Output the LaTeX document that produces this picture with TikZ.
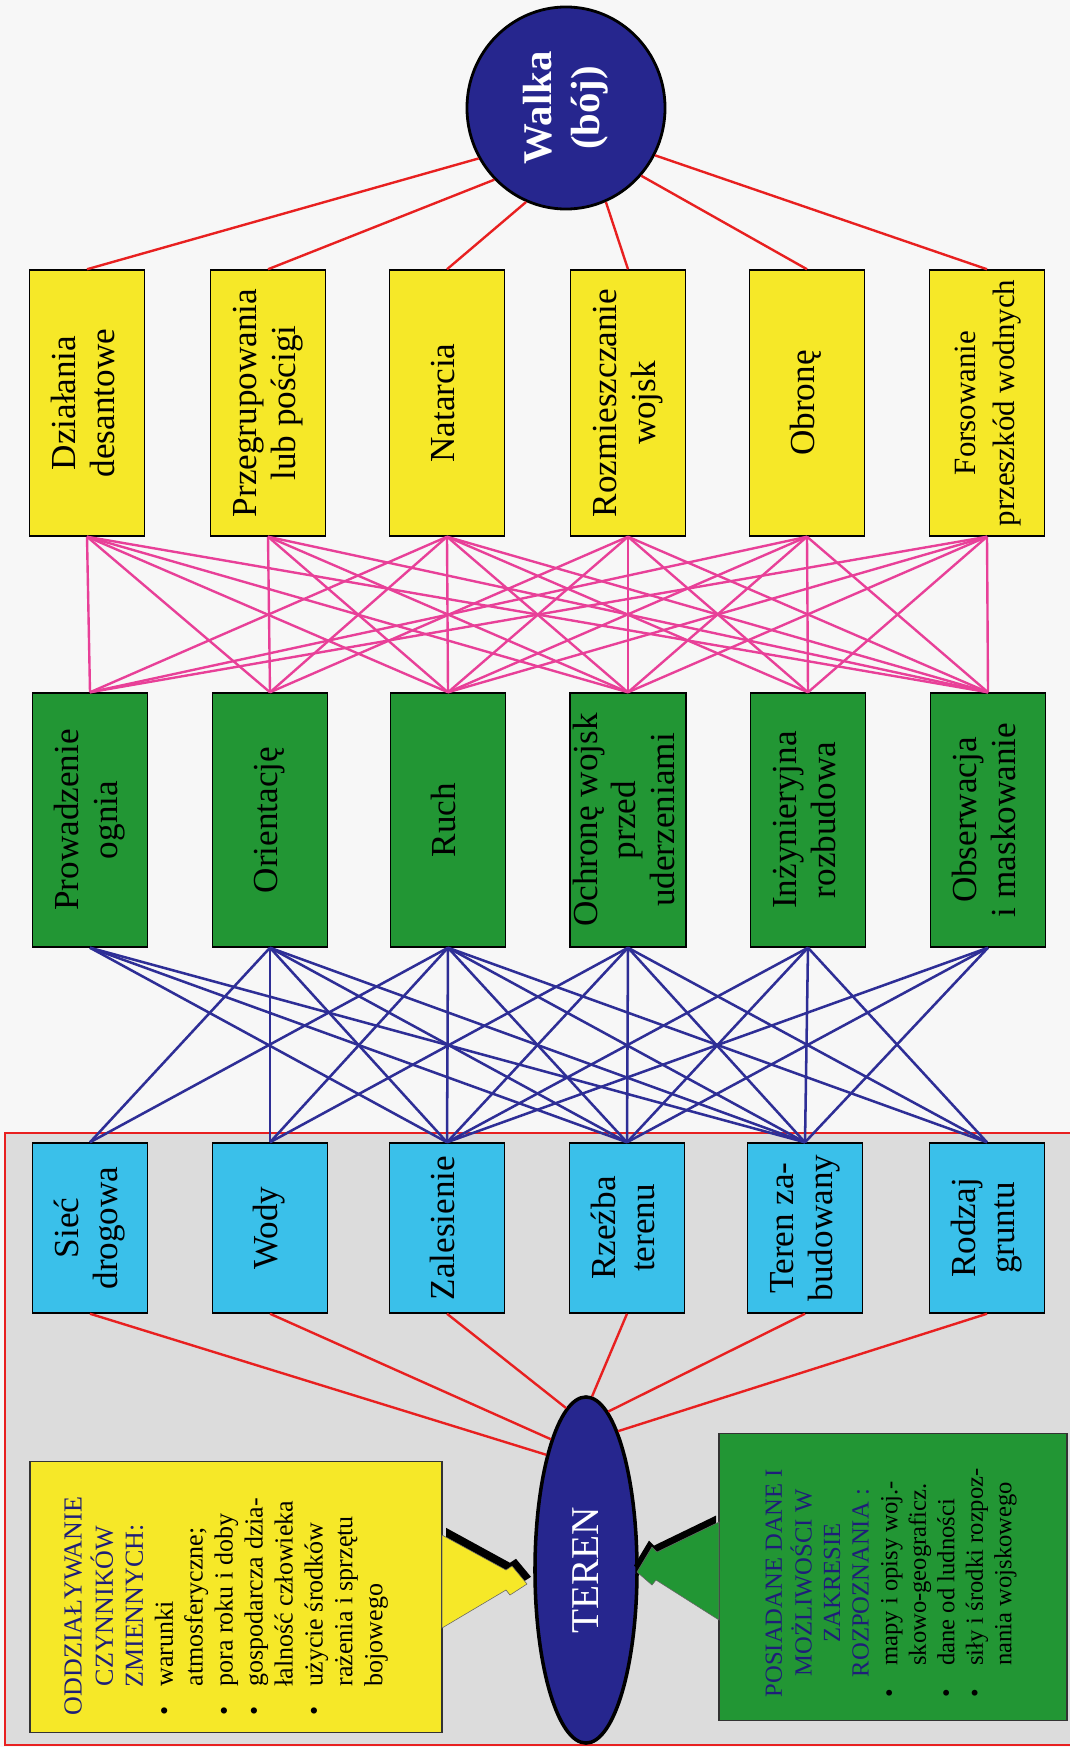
\documentclass[tikz,border=0pt]{standalone}
\usepackage{fontspec}
\setmainfont{Liberation Serif}
\usepackage{graphicx}
\usepackage{xcolor}
\usetikzlibrary{shapes.geometric}

\definecolor{boxyellow}{RGB}{246,232,40}
\definecolor{boxgreen}{RGB}{34,150,52}
\definecolor{boxcyan}{RGB}{58,192,234}
\definecolor{ovalblue}{RGB}{38,38,142}
\definecolor{headblue}{RGB}{30,30,120}
\definecolor{linkblue}{RGB}{46,46,150}
\definecolor{linkpink}{RGB}{232,64,152}
\definecolor{linkred}{RGB}{232,32,32}
\definecolor{regiongray}{RGB}{220,220,220}
\definecolor{paper}{RGB}{247,247,247}

\newcommand{\vlab}[1]{\rotatebox{90}{\begin{tabular}{@{}c@{}}#1\end{tabular}}}

\begin{document}
\begin{tikzpicture}[x=0.025cm,y=-0.025cm,
  tile/.style={draw=black,line width=1pt,inner sep=0pt,minimum width=2.875cm,
    font=\fontsize{25}{27.5}\selectfont},
  combat/.style={tile,fill=boxyellow,minimum height=6.65cm},
  task/.style={tile,fill=boxgreen,minimum height=6.35cm},
  feature/.style={tile,fill=boxcyan,minimum height=4.25cm},
  oval/.style={draw=black,line width=2pt,ellipse,fill=ovalblue,text=white,inner sep=0pt},
  note/.style={draw=black!80,line width=0.8pt,inner sep=0pt},
  redlink/.style={draw=linkred,line width=1.7pt},
  pinklink/.style={draw=linkpink,line width=1.7pt},
  bluelink/.style={draw=linkblue,line width=1.8pt}]
  \fill[paper] (0,0) rectangle (1070,1747);
  \useasboundingbox (0,0) rectangle (1070,1747);
  % terrain region
  \draw[linkred,fill=regiongray,line width=1pt] (5,1133) rectangle (1090,1745);

  % top: combat
  \node[oval,minimum width=4.95cm,minimum height=5.05cm,
    font=\fontsize{29}{34}\selectfont\bfseries] (walka) at (566,108) {\vlab{Walka\\(bój)}};

  % row 1: forms of combat
  \node[combat] (act1) at (87,403) {\vlab{Działania\\desantowe}};
  \node[combat] (act2) at (268,403) {\vlab{Przegrupowania\\lub pościgi}};
  \node[combat] (act3) at (447,403) {\vlab{Natarcia}};
  \node[combat] (act4) at (628,403) {\vlab{Rozmieszczanie\\wojsk}};
  \node[combat] (act5) at (807,403) {\vlab{Obronę}};
  \node[combat,font=\fontsize{22}{27.5}\selectfont] (act6) at (987,403) {\vlab{Forsowanie\\przeszkód wodnych}};

  % row 2: tasks
  \node[task] (task1) at (90,820) {\vlab{Prowadzenie\\ognia}};
  \node[task] (task2) at (270,820) {\vlab{Orientację}};
  \node[task] (task3) at (448,820) {\vlab{Ruch}};
  \node[task] (task4) at (628,820) {\vlab{Ochronę wojsk\\przed\\uderzeniami}};
  \node[task] (task5) at (808,820) {\vlab{Inżynieryjna\\rozbudowa}};
  \node[task] (task6) at (988,820) {\vlab{Obserwacja\\i maskowanie}};

  % row 3: terrain elements
  \node[feature] (elem1) at (90,1228) {\vlab{Sieć\\drogowa}};
  \node[feature] (elem2) at (270,1228) {\vlab{Wody}};
  \node[feature] (elem3) at (447,1228) {\vlab{Zalesienie}};
  \node[feature] (elem4) at (627,1228) {\vlab{Rzeźba\\terenu}};
  \node[feature] (elem5) at (805,1228) {\vlab{Teren za-\\budowany}};
  \node[feature] (elem6) at (987,1228) {\vlab{Rodzaj\\gruntu}};

  % bottom: terrain and side boxes
  \node[oval,line width=2.5pt,minimum width=2.55cm,minimum height=8.65cm,
    font=\fontsize{28}{32}\selectfont] (teren) at (586,1570) {\rotatebox{90}{TEREN}};
  \node[note,fill=boxyellow,minimum width=10.3cm,minimum height=6.775cm] (factors) at (236,1597) {};
  \node[font=\fontsize{18.5}{21.3}\selectfont] (factorstext) at (226,1606) {\rotatebox{90}{%
    \begin{tabular}{@{}p{1.1em}@{}l@{}}
    \multicolumn{2}{@{}c@{}}{\color{headblue}ODDZIAŁYWANIE}\\
    \multicolumn{2}{@{}c@{}}{\color{headblue}CZYNNIKÓW}\\
    \multicolumn{2}{@{}c@{}}{\color{headblue}ZMIENNYCH:}\\
    \textbullet & warunki\\
     & atmosferyczne;\\
    \textbullet & pora roku i doby\\
    \textbullet & gospodarcza dzia-\\
     & łalność człowieka\\
    \textbullet & użycie środków\\
     & rażenia i sprzętu\\
     & bojowego
    \end{tabular}}};
  \node[note,fill=boxgreen,minimum width=8.7cm,minimum height=7.175cm] (recon) at (893,1577) {};
  \node[font=\fontsize{17.5}{20.3}\selectfont] (recontext) at (891,1583) {\rotatebox{90}{%
    \begin{tabular}{@{}p{1.3em}@{}l@{}}
    \multicolumn{2}{@{}c@{}}{\color{headblue}POSIADANE DANE I}\\
    \multicolumn{2}{@{}c@{}}{\color{headblue}MOŻLIWOŚCI W}\\
    \multicolumn{2}{@{}c@{}}{\color{headblue}ZAKRESIE}\\
    \multicolumn{2}{@{}c@{}}{\color{headblue}ROZPOZNANIA :}\\
    \textbullet & mapy i opisy woj.-\\
     & skowo-geograficz.\\
    \textbullet & dane od ludności\\
    \textbullet & siły i środki rozpoz-\\
     & nania wojskowego
    \end{tabular}}};

  % bolt arrows into TEREN
  \fill[black,xshift=0.1cm,yshift=0.18cm] (442,1535) -- (506,1570) -- (512,1566) -- (527,1584)
    -- (510,1595) -- (506,1590) -- (442,1628) -- cycle;
  \filldraw[fill=boxyellow,draw=black!60,line width=0.4pt] (442,1535) -- (506,1570) -- (512,1566)
    -- (527,1584) -- (510,1595) -- (506,1590) -- (442,1628) -- cycle;
  \fill[black,xshift=-0.075cm,yshift=0.16cm] (719,1522) -- (657,1552) -- (652,1547) -- (637,1572)
    -- (652,1585) -- (656,1580) -- (719,1620) -- cycle;
  \filldraw[fill=boxgreen,draw=black!60,line width=0.4pt] (719,1522) -- (657,1552) -- (652,1547)
    -- (637,1572) -- (652,1585) -- (656,1580) -- (719,1620) -- cycle;

  % red links
  \foreach \i/\a in {1/210,2/225,3/247,4/293,5/318,6/332}
    \draw[redlink] (walka.\a) -- (act\i.north);
  \foreach \i/\a in {1/109,2/105,3/97,4/88,5/82,6/77}
    \draw[redlink] (elem\i.south) -- (teren.\a);

  % pink links: combat -> tasks
  \foreach \a/\b in {1/1,1/2,1/3,1/4,1/6, 2/2,2/3,2/4,2/6, 3/1,3/2,3/3,3/4,3/5,3/6,
                     4/2,4/3,4/4,4/5,4/6, 5/1,5/3,5/4,5/5,5/6, 6/1,6/3,6/4,6/5,6/6}
    \draw[pinklink] (act\a.south) -- (task\b.north);

  % blue links: tasks -> terrain elements
  \foreach \a/\b in {1/3,1/4,1/5, 2/1,2/2,2/3,2/4,2/5, 3/1,3/2,3/3,3/4,3/5,3/6,
                     4/2,4/3,4/4,4/5,4/6, 5/3,5/4,5/5,5/6, 6/3,6/4,6/5}
    \draw[bluelink] (task\a.south) -- (elem\b.north);
\end{tikzpicture}
\end{document}
